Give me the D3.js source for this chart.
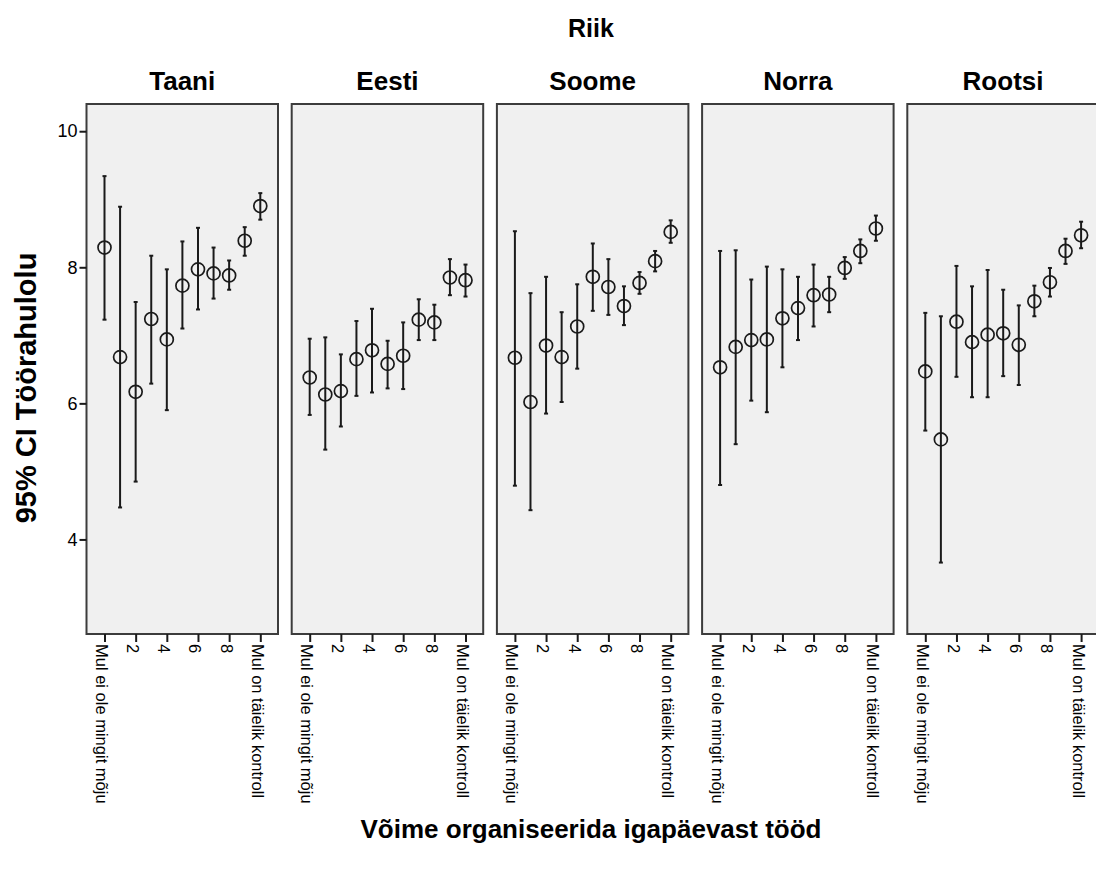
<!DOCTYPE html>
<html>
<head>
<meta charset="utf-8">
<script src="https://cdn.jsdelivr.net/npm/d3@7"></script>
<style>
  body { margin: 0; background: #fff; }
  svg { display: block; font-family: "Liberation Sans", Arial, sans-serif; }
  .frame { fill: #f0f0f0; stroke: #3c3c3c; stroke-width: 2; }
  .bar { stroke: #1a1a1a; stroke-width: 2; }
  .cap { stroke: #1a1a1a; stroke-width: 2; }
  .dot { fill: none; stroke: #1a1a1a; stroke-width: 1.7; }
  .axis line { stroke: #1a1a1a; stroke-width: 2; }
  .axis path { display: none; }
  .axis text { fill: #000; }
  .title { font-weight: bold; text-anchor: middle; fill: #000; }
</style>
</head>
<body>
<div class="chart"></div>
<script>
var countries = ['Taani', 'Eesti', 'Soome', 'Norra', 'Rootsi'];
var categories = [0, 1, 2, 3, 4, 5, 6, 7, 8, 9, 10];
var xTicks = [0, 2, 4, 6, 8, 10];
var xTickLabels = ['Mul ei ole mingit mõju', '2', '4', '6', '8', 'Mul on täielik kontroll'];
var yTicks = [4, 6, 8, 10];

// mean and 95% CI per country, one value per category 0..10
var means = {
  Taani:  [8.29, 6.68, 6.17, 7.24, 6.94, 7.73, 7.97, 7.91, 7.88, 8.39, 8.90],
  Eesti:  [6.38, 6.13, 6.18, 6.65, 6.78, 6.58, 6.70, 7.23, 7.19, 7.85, 7.81],
  Soome:  [6.67, 6.02, 6.85, 6.68, 7.13, 7.86, 7.71, 7.43, 7.77, 8.09, 8.52],
  Norra:  [6.53, 6.83, 6.93, 6.94, 7.25, 7.40, 7.59, 7.60, 7.99, 8.24, 8.57],
  Rootsi: [6.47, 5.47, 7.20, 6.90, 7.01, 7.03, 6.86, 7.50, 7.78, 8.24, 8.47]
};
var lower = {
  Taani:  [7.23, 4.47, 4.85, 6.29, 5.90, 7.10, 7.38, 7.54, 7.67, 8.17, 8.70],
  Eesti:  [5.83, 5.32, 5.66, 6.11, 6.16, 6.22, 6.21, 6.93, 6.93, 7.59, 7.57],
  Soome:  [4.79, 4.43, 5.85, 6.02, 6.51, 7.36, 7.30, 7.15, 7.61, 7.94, 8.36],
  Norra:  [4.80, 5.40, 6.04, 5.87, 6.53, 6.93, 7.13, 7.34, 7.83, 8.06, 8.39],
  Rootsi: [5.60, 3.66, 6.39, 6.09, 6.09, 6.40, 6.27, 7.28, 7.57, 8.05, 8.28]
};
var upper = {
  Taani:  [9.34, 8.89, 7.49, 8.17, 7.97, 8.38, 8.58, 8.29, 8.10, 8.59, 9.09],
  Eesti:  [6.95, 6.97, 6.72, 7.21, 7.39, 6.92, 7.19, 7.53, 7.45, 8.12, 8.04],
  Soome:  [8.53, 7.62, 7.86, 7.34, 7.75, 8.35, 8.12, 7.72, 7.93, 8.24, 8.69],
  Norra:  [8.24, 8.25, 7.82, 8.01, 7.97, 7.86, 8.04, 7.86, 8.15, 8.41, 8.76],
  Rootsi: [7.33, 7.28, 8.02, 7.72, 7.96, 7.67, 7.44, 7.73, 7.99, 8.42, 8.67]
};

function init() {
  var width = 1096,
      height = 869,
      top = 104,
      bottom = 634,
      firstLeft = 86.5,
      panelStep = 205.2,
      panelWidth = 191.5,
      capHalf = 2,
      dotRadius = 6.5;

  var svg = d3.select('.chart')
    .append('svg')
      .attr('width', width)
      .attr('height', height);

  var y = d3.scaleLinear().domain([2.61, 10.40]).range([bottom, top]);
  var x = d3.scaleLinear().domain([0, 10]).range([18, 173.8]);

  svg.append('text')
      .attr('class', 'title')
      .attr('x', 591)
      .attr('y', 37)
      .style('font-size', '25px')
      .text('Riik');

  svg.append('text')
      .attr('class', 'title')
      .attr('transform', 'translate(36, 388) rotate(-90)')
      .style('font-size', '29px')
      .text('95% CI Töörahulolu');

  svg.append('text')
      .attr('class', 'title')
      .attr('x', 591)
      .attr('y', 838)
      .style('font-size', '26px')
      .text('Võime organiseerida igapäevast tööd');

  countries.forEach(function(country, idx) {
    var g = svg.append('g')
        .attr('transform', 'translate(' + (firstLeft + idx * panelStep) + ', 0)');

    g.append('text')
        .attr('class', 'title')
        .attr('x', panelWidth / 2)
        .attr('y', 90)
        .style('font-size', '26px')
        .text(country);

    g.append('rect')
        .attr('class', 'frame')
        .attr('x', 0)
        .attr('y', top)
        .attr('width', panelWidth)
        .attr('height', bottom - top);

    var xAxis = g.append('g')
        .attr('class', 'axis')
        .attr('transform', 'translate(0,' + bottom + ')')
        .call(d3.axisBottom(x)
          .tickValues(xTicks)
          .tickSize(8)
          .tickFormat(function(d, i) { return xTickLabels[i]; }));

    xAxis.selectAll('text')
        .attr('y', 0)
        .attr('x', 10)
        .attr('dy', '0.55em')
        .attr('transform', 'rotate(90)')
        .style('text-anchor', 'start')
        .style('font-size', '16.5px');

    var pts = categories.map(function(c, i) {
      return { c: c, m: means[country][i], lo: lower[country][i], hi: upper[country][i] };
    });

    g.selectAll('line.bar')
        .data(pts)
      .enter().append('line')
        .attr('class', 'bar')
        .attr('x1', function(d) { return x(d.c); })
        .attr('x2', function(d) { return x(d.c); })
        .attr('y1', function(d) { return y(d.lo); })
        .attr('y2', function(d) { return y(d.hi); });

    ['lo', 'hi'].forEach(function(k) {
      g.selectAll('line.cap-' + k)
          .data(pts)
        .enter().append('line')
          .attr('class', 'cap cap-' + k)
          .attr('x1', function(d) { return x(d.c) - capHalf; })
          .attr('x2', function(d) { return x(d.c) + capHalf; })
          .attr('y1', function(d) { return y(d[k]); })
          .attr('y2', function(d) { return y(d[k]); });
    });

    g.selectAll('circle.dot')
        .data(pts)
      .enter().append('circle')
        .attr('class', 'dot')
        .attr('cx', function(d) { return x(d.c); })
        .attr('cy', function(d) { return y(d.m); })
        .attr('r', dotRadius);

    if (idx === 0) {
      g.append('g')
          .attr('class', 'axis')
          .call(d3.axisLeft(y)
            .tickValues(yTicks)
            .tickSize(7)
            .tickPadding(2))
        .selectAll('text')
          .style('font-size', '18px');
    }
  });
}

d3.select(window).on('load', init);
</script>
</body>
</html>
